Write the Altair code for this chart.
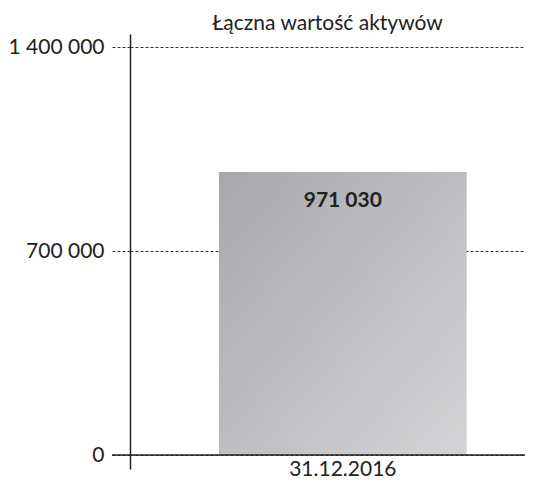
import altair as alt
import pandas as pd

dates = ["31.12.2016"]
values = [971030]
tick_values = [0, 700000, 1400000]
title_text = "Łączna wartość aktywów"

W = 395
H = 435
FONT = "Lato"
FS = 21

df = pd.DataFrame({"date": dates, "value": values})
zero_df = pd.DataFrame({"v": [tick_values[0]]})

y_scale = alt.Scale(domain=[-48039, 1444608], nice=False, zero=False)

gradient = alt.Gradient(
    gradient="linear",
    stops=[alt.GradientStop(color="#a7a8ab", offset=0),
           alt.GradientStop(color="#d3d4d6", offset=1)],
    x1=0, y1=0, x2=1, y2=1,
)

bars = alt.Chart(df).mark_bar(fill=gradient).encode(
    x=alt.X("date:N",
            scale=alt.Scale(paddingInner=0.3729, paddingOuter=0.18645, align=0.604),
            axis=alt.Axis(title=None, domain=False, ticks=False, labelAngle=0,
                          labelFont=FONT, labelFontSize=FS, labelColor="#222222",
                          offset=-14, labelPadding=3)),
    y=alt.Y("value:Q", scale=y_scale,
            axis=alt.Axis(title=None, values=tick_values,
                          labelExpr="replace(format(datum.value, ','), regexp(',', 'g'), ' ')",
                          labelFont=FONT, labelFontSize=FS, labelColor="#222222",
                          labelPadding=8, tickSize=18, tickColor="#333333",
                          tickDash=[3, 2], tickWidth=1,
                          grid=True, gridDash=[3, 2], gridColor="#333333",
                          gridWidth=1, gridOpacity=1,
                          domainColor="#222222", domainWidth=1.5)),
)

labels = alt.Chart(df).transform_calculate(
    lab="replace(format(datum.value, ','), regexp(',', 'g'), ' ')"
).mark_text(font=FONT, fontSize=FS, fontWeight="bold", color="#222222",
            baseline="top", dy=18).encode(
    x="date:N",
    y=alt.Y("value:Q", scale=y_scale),
    text="lab:N",
)

zero_rule = alt.Chart(zero_df).mark_rule(color="#222222", strokeWidth=1.5).encode(
    y=alt.Y("v:Q", scale=y_scale),
    x=alt.value(-18),
    x2=alt.value(W),
)

chart = alt.layer(bars, labels, zero_rule).properties(
    width=W,
    height=H,
    title=alt.TitleParams(title_text, font=FONT, fontSize=FS, fontWeight="normal",
                          color="#222222", anchor="middle", offset=0),
    padding={"left": 122, "top": 26, "right": 0, "bottom": 9},
    autosize=alt.AutoSizeParams(type="none"),
    background="white",
).configure_view(stroke=None)

chart.save("out.html", embed_options={"renderer": "svg", "actions": False})
